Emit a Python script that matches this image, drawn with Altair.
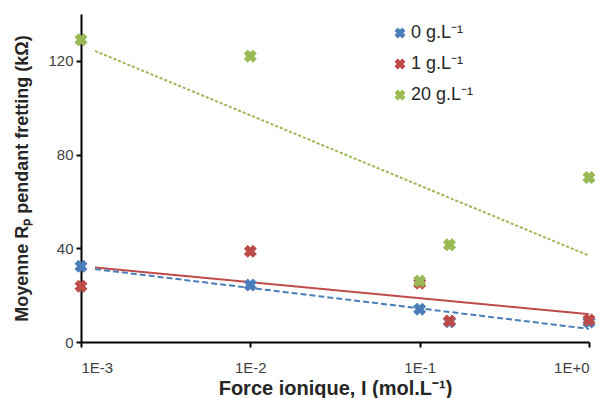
import altair as alt
import pandas as pd

series_names = ["0 g.L⁻¹", "1 g.L⁻¹", "20 g.L⁻¹"]
colors = ["#4A7EBB", "#BE4B48", "#98B954"]

x_0 = [0.001, 0.01, 0.1, 0.15, 1.0]
y_0 = [32.3, 24.3, 14.0, 8.6, 8.5]
x_1 = [0.001, 0.01, 0.1, 0.15, 1.0]
y_1 = [23.8, 38.7, 25.1, 9.0, 9.4]
x_20 = [0.001, 0.01, 0.1, 0.15, 1.0]
y_20 = [129.0, 122.0, 26.0, 41.5, 70.2]

x_ticks = [0.001, 0.01, 0.1, 1.0]
x_tick_labels = ["1E-3", "1E-2", "1E-1", "1E+0"]
y_ticks = [0, 40, 80, 120]
trend_extent = [0.00121, 1.0]

rows = []
for name, xs, ys in zip(series_names, [x_0, x_1, x_20], [y_0, y_1, y_20]):
    for xv, yv in zip(xs, ys):
        rows.append({"serie": name, "I": xv, "R": yv})
df = pd.DataFrame(rows)

XPATH = "M-1,-0.4L-0.4,-1L0,-0.6L0.4,-1L1,-0.4L0.6,0L1,0.4L0.4,1L0,0.6L-0.4,1L-1,0.4L-0.6,0Z"
FONT = "Liberation Sans"

label_expr = " : ".join(
    f"abs(datum.value - {v}) < {v} * 0.01 ? '{lab}'" for v, lab in zip(x_ticks, x_tick_labels)
) + " : ''"

x_enc = alt.X("I:Q", scale=alt.Scale(type="log", domain=[0.001, 1.0], nice=False),
              axis=alt.Axis(values=x_ticks, title="Force ionique, I (mol.L⁻¹)",
                            labelExpr=label_expr,
                            grid=False, tickSize=5, labelPadding=13,
                            titleFontSize=20, titleFontWeight="bold", titlePadding=3))
y_enc = alt.Y("R:Q", scale=alt.Scale(domain=[0, 140], nice=False),
              axis=alt.Axis(values=y_ticks, title="Moyenne Rₚ pendant fretting (kΩ)",
                            grid=False, tickSize=5, labelPadding=3,
                            titleFontSize=18, titleFontWeight="bold", titlePadding=16))

points = alt.Chart(df).mark_point(shape=XPATH, filled=True, size=170, opacity=1).encode(
    x=x_enc, y=y_enc,
    color=alt.Color("serie:N", scale=alt.Scale(domain=series_names, range=colors),
                    sort=series_names,
                    legend=alt.Legend(title=None, orient="none", legendX=310, legendY=10,
                                      symbolType=XPATH, symbolSize=120, labelFontSize=18,
                                      labelFont=FONT, labelColor="#262626", rowPadding=13,
                                      symbolStrokeWidth=0, labelOffset=2)),
    order=alt.Order("serie:N"),
)

dashes = [[6, 3], [1, 0], [3, 2]]
lines = []
for name, col, dash in zip(series_names, colors, dashes):
    lines.append(
        alt.Chart(df).transform_filter(alt.datum.serie == name)
        .transform_regression("I", "R", method="log", extent=trend_extent)
        .mark_line(color=col, strokeWidth=2, strokeDash=dash)
        .encode(x=alt.X("I:Q"), y=alt.Y("R:Q"))
    )

chart = alt.layer(lines[2], lines[1], lines[0], points).properties(
    width=508, height=328,
    autosize=alt.AutoSizeParams(type="none"),
    padding={"left": 73, "top": 6, "right": 10, "bottom": 56},
).configure_view(stroke=None).configure_axis(
    domainColor="black", domainWidth=2, tickColor="black", tickWidth=2,
    labelFont=FONT, labelFontSize=15, labelColor="#404040",
    titleFont=FONT, titleColor="#262626",
)

chart.save("out.html", embed_options={"renderer": "svg", "actions": False})
